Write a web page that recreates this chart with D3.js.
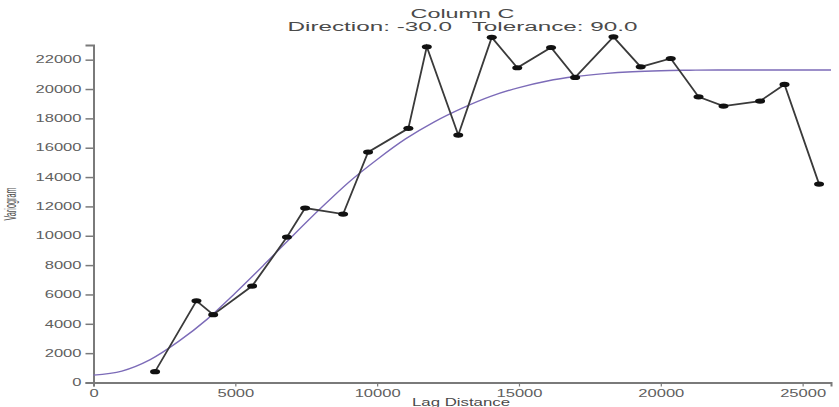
<!DOCTYPE html>
<html>
<head>
<meta charset="utf-8">
<script src="https://cdn.jsdelivr.net/npm/d3@7/dist/d3.min.js"></script>
<style>
  html, body { margin: 0; padding: 0; background: #fff; }
  svg { display: block; }
  text { font-family: "Liberation Sans", Arial, sans-serif; white-space: pre; }
</style>
</head>
<body>
<svg id="chart" width="839" height="407"></svg>
<script>
// Experimental variogram (lag distance vs. semivariance)
const lagDistance = [2170, 3630, 4220, 5590, 6820, 7460, 8800, 9680, 11100, 11750, 12860,
                     14040, 14940, 16130, 16980, 18330, 19290, 20350, 21330, 22210, 23500, 24360, 25580];
const variogram   = [740, 5570, 4620, 6570, 9910, 11890, 11480, 15700, 17320, 22880, 16860,
                     23520, 21450, 22830, 20790, 23560, 21510, 22080, 19470, 18840, 19180, 20310, 13520];

// Fitted model curve
const modelLag   = [0, 1000, 2000, 3000, 4000, 5000, 6000, 7000, 8000, 9000, 10000, 11000, 12000,
                    13000, 14000, 15000, 16000, 17000, 18000, 19000, 20000, 21000, 22000, 23000, 24000, 25000, 26000];
const modelValue = [500, 780, 1560, 2800, 4300, 6100, 8000, 9950, 11850, 13650, 15200, 16600, 17750,
                    18700, 19500, 20100, 20550, 20850, 21050, 21180, 21250, 21280, 21300, 21300, 21300, 21300, 21300];

const xTicks = [0, 5000, 10000, 15000, 20000, 25000];
const yTicks = [0, 2000, 4000, 6000, 8000, 10000, 12000, 14000, 16000, 18000, 20000, 22000];

const titleLine1 = "Column C";
const titleLine2 = "Direction: -30.0   Tolerance: 90.0";
const xLabel = "Lag Distance";
const yLabel = "Variogram";

const svg = d3.select("#chart");

const x = d3.scaleLinear().domain([0, 26000]).range([93.5, 831]);
const y = d3.scaleLinear().domain([0, 23000]).range([382.5, 45]);

const axisColor = "#7a7a7a";
const labelColor = "#606060";

// wide-set text helper: fixes the drawn width of each label
function wideText(sel, str, w) {
  sel.text(str).attr("textLength", w).attr("lengthAdjust", "spacingAndGlyphs");
}

// Y axis
const yAxis = svg.append("g").attr("transform", `translate(${x(0)},0)`)
  .call(d3.axisLeft(y).tickValues(yTicks).tickSize(8).tickPadding(4).tickFormat(d3.format("d")));
yAxis.select(".domain").attr("stroke", axisColor).attr("stroke-width", 2);
yAxis.selectAll(".tick line").attr("stroke", axisColor).attr("stroke-width", 1.5);
yAxis.selectAll(".tick text")
  .attr("fill", labelColor).attr("font-size", 10)
  .each(function(d) { wideText(d3.select(this), String(d), String(d).length * 9.2); });

// X axis
const xAxis = svg.append("g").attr("transform", `translate(0,${y(0)})`)
  .call(d3.axisBottom(x).tickValues(xTicks).tickSize(4).tickPadding(3).tickFormat(d3.format("d")));
xAxis.select(".domain").attr("stroke", axisColor).attr("stroke-width", 2);
xAxis.selectAll(".tick line").attr("stroke", axisColor).attr("stroke-width", 1.2);
xAxis.selectAll(".tick text")
  .attr("fill", labelColor).attr("font-size", 10)
  .each(function(d) { wideText(d3.select(this), String(d), String(d).length * 9.2); });

// Model curve
const modelLine = d3.line()
  .x((d, i) => x(modelLag[i]))
  .y((d, i) => y(modelValue[i]))
  .curve(d3.curveMonotoneX);
svg.append("path")
  .datum(modelValue)
  .attr("d", modelLine)
  .attr("fill", "none")
  .attr("stroke", "#7c6bb8")
  .attr("stroke-width", 1.4);

// Experimental variogram line and markers
const dataLine = d3.line()
  .x((d, i) => x(lagDistance[i]))
  .y((d, i) => y(variogram[i]));
svg.append("path")
  .datum(variogram)
  .attr("d", dataLine)
  .attr("fill", "none")
  .attr("stroke", "#3a3a3a")
  .attr("stroke-width", 1.8);

svg.append("g").selectAll("ellipse")
  .data(variogram)
  .join("ellipse")
  .attr("cx", (d, i) => x(lagDistance[i]))
  .attr("cy", d => y(d))
  .attr("rx", 5)
  .attr("ry", 2.6)
  .attr("fill", "#111");

// Titles
const midX = 462.5;
svg.append("text").attr("x", midX).attr("y", 17.5).attr("text-anchor", "middle")
  .attr("font-size", 12).attr("fill", "#4a4a4a")
  .call(s => wideText(s, titleLine1, 104));
svg.append("text").attr("x", midX).attr("y", 31).attr("text-anchor", "middle")
  .attr("font-size", 12).attr("fill", "#4a4a4a")
  .call(s => wideText(s, titleLine2, 350));

// Axis labels
svg.append("text").attr("x", 461).attr("y", 405.5).attr("text-anchor", "middle")
  .attr("font-size", 11).attr("fill", "#4a4a4a")
  .call(s => wideText(s, xLabel, 98));
svg.append("text")
  .attr("transform", "translate(16,204) scale(1.8,1) rotate(-90)")
  .attr("text-anchor", "middle")
  .attr("font-size", 9).attr("fill", "#505050")
  .call(s => wideText(s, yLabel, 33));
</script>
</body>
</html>
